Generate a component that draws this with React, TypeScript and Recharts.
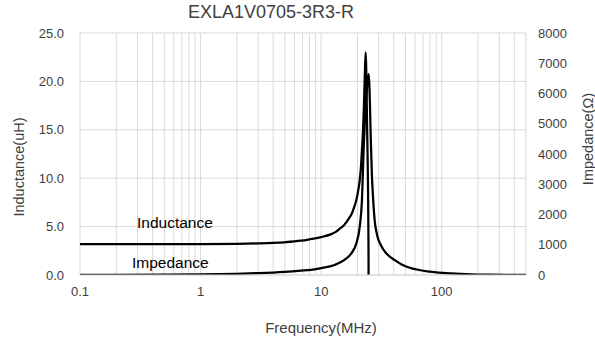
import React from "react";
import {
  LineChart,
  Line,
  XAxis,
  YAxis,
  ReferenceLine,
} from "recharts";

// inductance readings (uH) vs frequency (MHz)
const indFreq = [0.1, 0.2, 0.5, 1, 2, 3, 4, 5, 6.8, 8.25, 10, 12, 13, 14, 15.6, 17, 17.8, 19, 19.6, 20.4, 20.9, 21.4, 21.8, 22.2, 22.6, 23.0, 23.4, 24.0, 24.7, 25.1, 26, 30, 40, 60, 100, 200, 500];
const indValues = [3.2, 3.2, 3.2, 3.2, 3.22, 3.26, 3.31, 3.38, 3.54, 3.72, 3.92, 4.2, 4.4, 4.7, 5.2, 5.85, 6.25, 7.2, 7.75, 8.9, 9.8, 11.2, 12.9, 14.7, 17.2, 20.5, 23.0, 16, 3, -25, -40, -12, -5, -4, -3.6, -3.4, -3.3];

// impedance readings (ohm) vs frequency (MHz)
const impFreq = [0.1, 0.2, 0.5, 1, 2, 3, 5, 6.8, 8.25, 10, 12.9, 15.6, 17.8, 19.6, 20.9, 21.8, 22.5, 23.0, 23.4, 24.0, 24.5, 24.8, 25.1, 25.4, 25.8, 26.3, 27, 27.8, 29, 31.6, 35, 40.8, 47, 52.7, 65, 80, 94, 120, 178, 250, 350, 500];
const impValues = [2, 4, 10, 20, 41, 62, 104, 143, 172, 225, 330, 500, 716, 1047, 1600, 2480, 4130, 5000, 5600, 6200, 6550, 6640, 6300, 5600, 4500, 3400, 2500, 1800, 1350, 950, 700, 490, 340, 258, 165, 110, 78, 50, 24, 14, 8, 5];

const xTicks = [0.1, 1, 10, 100];
const xGrid = [0.1, 0.2, 0.3, 0.4, 0.5, 0.6, 0.7, 0.8, 0.9, 1, 2, 3, 4, 5, 6, 7, 8, 9, 10, 20, 30, 40, 50, 60, 70, 80, 90, 100, 200, 300, 400, 500];
const leftTicks = [0, 5, 10, 15, 20, 25];
const rightTicks = [0, 1000, 2000, 3000, 4000, 5000, 6000, 7000, 8000];

const indData = indFreq.map((f, i) => ({ f, v: indValues[i] }));
const impData = impFreq.map((f, i) => ({ f, v: impValues[i] }));

const font = "'Liberation Sans', Arial, sans-serif";
const textColor = "#404040";
const gridColor = "#d9d9d9";
const tickStyle = { fontSize: 13, fill: textColor, fontFamily: font };

const App = () => {
  return (
    <div
      style={{
        position: "absolute",
        left: 0,
        top: 0,
        width: 595,
        height: 341,
        background: "#fff",
        fontFamily: font,
        color: textColor,
      }}
    >
      <LineChart
        width={595}
        height={341}
        margin={{ top: 33, right: 0, bottom: 0, left: 0 }}
      >
        <XAxis
          dataKey="f"
          type="number"
          scale="log"
          domain={[0.1, 500]}
          ticks={xTicks}
          tickFormatter={(v: number) => String(v)}
          allowDataOverflow
          height={66}
          stroke={gridColor}
          tickLine={false}
          tickSize={6}
          tickMargin={6}
          tick={tickStyle}
        />
        <YAxis
          yAxisId="L"
          domain={[0, 25]}
          ticks={leftTicks}
          tickFormatter={(v: number) => v.toFixed(1)}
          allowDataOverflow
          width={80}
          axisLine={false}
          tickLine={false}
          tickSize={6}
          tickMargin={10}
          tick={tickStyle}
        />
        <YAxis
          yAxisId="R"
          orientation="right"
          domain={[0, 8000]}
          ticks={rightTicks}
          allowDataOverflow
          width={69}
          axisLine={false}
          tickLine={false}
          tickSize={6}
          tickMargin={6}
          tick={{ ...tickStyle, textAnchor: "start" }}
        />
        {/* gridlines: minor log decades and the left-axis ticks */}
        {xGrid.map((v) => (
          <ReferenceLine
            key={"x" + v}
            x={v}
            yAxisId="L"
            stroke={gridColor}
            strokeWidth={1}
            ifOverflow="extendDomain"
          />
        ))}
        {leftTicks.map((v) => (
          <ReferenceLine
            key={"y" + v}
            y={v}
            yAxisId="L"
            stroke={gridColor}
            strokeWidth={1}
          />
        ))}
        <Line
          yAxisId="L"
          data={indData}
          dataKey="v"
          type="monotone"
          stroke="#000"
          strokeWidth={2.25}
          dot={false}
          activeDot={false}
          isAnimationActive={false}
          name="Inductance"
        />
        <Line
          yAxisId="R"
          data={impData}
          dataKey="v"
          type="monotone"
          stroke="#000"
          strokeWidth={2.25}
          dot={false}
          activeDot={false}
          isAnimationActive={false}
          name="Impedance"
        />
      </LineChart>

      <div
        style={{
          position: "absolute",
          left: 271,
          top: 3,
          transform: "translateX(-50%)",
          fontSize: 18,
          lineHeight: "18px",
          whiteSpace: "nowrap",
        }}
      >
        EXLA1V0705-3R3-R
      </div>
      <div
        style={{
          position: "absolute",
          left: 137,
          top: 215,
          fontSize: 15.5,
          lineHeight: 1,
          whiteSpace: "nowrap",
          color: "#000",
        }}
      >
        Inductance
      </div>
      <div
        style={{
          position: "absolute",
          left: 132,
          top: 255,
          fontSize: 15.5,
          lineHeight: 1,
          whiteSpace: "nowrap",
          color: "#000",
        }}
      >
        Impedance
      </div>
      <div
        style={{
          position: "absolute",
          left: 321,
          top: 320,
          transform: "translateX(-50%)",
          fontSize: 15,
          lineHeight: 1,
          whiteSpace: "nowrap",
        }}
      >
        Frequency(MHz)
      </div>
      <div
        style={{
          position: "absolute",
          left: 19,
          top: 167,
          transform: "translate(-50%, -50%) rotate(-90deg)",
          fontSize: 14.5,
          lineHeight: 1,
          whiteSpace: "nowrap",
        }}
      >
        Inductance(uH)
      </div>
      <div
        style={{
          position: "absolute",
          left: 588,
          top: 139,
          transform: "translate(-50%, -50%) rotate(-90deg)",
          fontSize: 14.5,
          lineHeight: 1,
          whiteSpace: "nowrap",
        }}
      >
        Impedance(Ω)
      </div>
    </div>
  );
};

export default App;
